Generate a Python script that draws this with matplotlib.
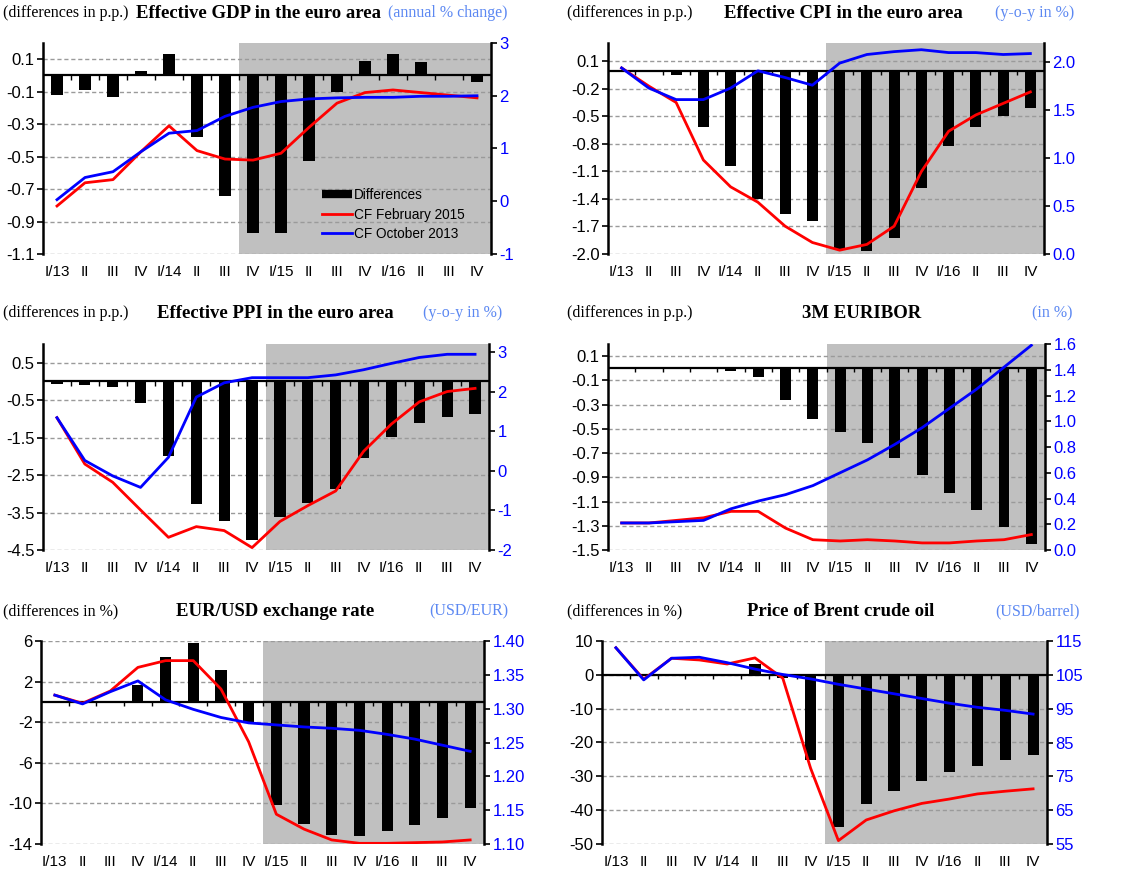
import numpy as np
import matplotlib.pyplot as plt
from matplotlib.lines import Line2D
from matplotlib.ticker import FormatStrFormatter

plt.rcParams['axes.unicode_minus'] = False
plt.rcParams['font.family'] = 'Liberation Sans'

quarters = ["I/13", "II", "III", "IV", "I/14", "II", "III", "IV",
            "I/15", "II", "III", "IV", "I/16", "II", "III", "IV"]

# GDP (differences in p.p., annual % change)
gdp_diff = [-0.12, -0.09, -0.13, 0.03, 0.13, -0.38, -0.74, -0.97,
            -0.97, -0.53, -0.10, 0.09, 0.13, 0.08, 0.01, -0.04]
gdp_feb15 = [-0.09, 0.35, 0.41, 0.94, 1.43, 0.96, 0.80, 0.78,
             0.91, 1.40, 1.86, 2.06, 2.11, 2.06, 2.01, 1.96]
gdp_oct13 = [0.03, 0.45, 0.56, 0.94, 1.29, 1.34, 1.61, 1.78,
             1.89, 1.94, 1.96, 1.97, 1.97, 1.99, 1.99, 2.00]

# CPI (y-o-y in %)
cpi_diff = [0.0, 0.0, -0.05, -0.62, -1.04, -1.40, -1.56, -1.64,
            -1.96, -1.97, -1.83, -1.28, -0.82, -0.62, -0.50, -0.41]
cpi_feb15 = [1.94, 1.75, 1.58, 0.98, 0.70, 0.54, 0.29, 0.12,
             0.04, 0.10, 0.29, 0.86, 1.28, 1.45, 1.57, 1.69]
cpi_oct13 = [1.94, 1.73, 1.61, 1.61, 1.73, 1.91, 1.84, 1.76,
             1.99, 2.08, 2.11, 2.13, 2.10, 2.10, 2.08, 2.09]

# PPI (y-o-y in %)
ppi_diff = [-0.06, -0.09, -0.16, -0.57, -1.99, -3.28, -3.73, -4.23,
            -3.63, -3.25, -2.87, -2.05, -1.49, -1.12, -0.95, -0.88]
ppi_feb15 = [1.34, 0.17, -0.29, -0.99, -1.68, -1.41, -1.51, -1.94,
             -1.28, -0.88, -0.51, 0.49, 1.18, 1.74, 2.00, 2.08]
ppi_oct13 = [1.34, 0.26, -0.13, -0.42, 0.34, 1.86, 2.22, 2.35,
             2.35, 2.35, 2.42, 2.55, 2.71, 2.86, 2.94, 2.94]

# 3M EURIBOR (in %)
eur_diff = [0.0, 0.0, 0.0, 0.0, -0.02, -0.07, -0.26, -0.42,
            -0.53, -0.62, -0.74, -0.88, -1.03, -1.17, -1.31, -1.45]
eur_feb15 = [0.21, 0.21, 0.23, 0.25, 0.30, 0.30, 0.17, 0.08,
             0.07, 0.08, 0.07, 0.055, 0.055, 0.07, 0.08, 0.12]
eur_oct13 = [0.21, 0.21, 0.22, 0.23, 0.32, 0.38, 0.43, 0.50,
             0.60, 0.70, 0.82, 0.95, 1.10, 1.25, 1.42, 1.59]

# EUR/USD (differences in %, USD/EUR)
fx_diff = [0.0, 0.0, 0.0, 1.64, 4.42, 5.84, 3.14, -1.99,
           -10.2, -12.0, -13.1, -13.2, -12.7, -12.1, -11.4, -10.5]
fx_feb15 = [1.320, 1.308, 1.326, 1.361, 1.371, 1.371, 1.329, 1.251,
            1.144, 1.122, 1.106, 1.101, 1.101, 1.102, 1.103, 1.106]
fx_oct13 = [1.320, 1.307, 1.325, 1.341, 1.313, 1.299, 1.287, 1.279,
            1.276, 1.273, 1.271, 1.268, 1.262, 1.255, 1.246, 1.237]

# Brent (differences in %, USD/barrel)
oil_diff = [0.0, 0.0, 0.0, -0.4, -0.4, 3.3, -1.0, -25.2,
            -45.1, -38.3, -34.4, -31.5, -28.8, -27.0, -25.2, -23.7]
oil_feb15 = [113.0, 103.7, 109.9, 109.4, 108.2, 110.0, 104.0, 77.4,
             56.0, 62.1, 64.8, 67.0, 68.3, 69.8, 70.6, 71.3]
oil_oct13 = [113.0, 103.5, 109.9, 110.2, 108.6, 106.7, 105.1, 103.8,
             102.2, 100.8, 99.4, 98.0, 96.6, 95.4, 94.5, 93.4]

W, H = 1123, 872
fig = plt.figure(figsize=(W / 100, H / 100), dpi=100)

RED = '#FF0000'
BLUE = '#0000FF'
HEAD_BLUE = '#5C88F2'
SERIF = 'Liberation Serif'
TICK_SIZE = 12


def box(left, right, top, bottom):
    return [left / W, 1 - bottom / H, (right - left) / W, (bottom - top) / H]


def panel(rect, diff, feb, octo, llim, lticks, lfmt, rlim, rticks, rfmt,
          shade_from, heads, head_x, head_y):
    ax = fig.add_axes(box(*rect))
    x = np.arange(len(quarters))
    ax.set_xlim(-0.5, len(quarters) - 0.5)
    ax.set_ylim(*llim)
    ax.axvspan(shade_from, len(quarters) - 0.5, color='#C0C0C0', lw=0, zorder=0)
    for t in lticks:
        ax.axhline(t, color='#9A9A9A', lw=1.0, ls=(0, (3, 2)), zorder=0.5)
    ax.bar(x, diff, width=0.4, color='black', zorder=2)
    ax.axhline(0, color='black', lw=1.6, zorder=3)
    tick_len = (llim[1] - llim[0]) * 0.02
    ax.vlines(x[:-1] + 0.5, -tick_len, 0, color='black', lw=1.0, zorder=3)

    ax.set_yticks(lticks)
    ax.yaxis.set_major_formatter(FormatStrFormatter(lfmt))
    ax.set_xticks(x)
    ax.set_xticklabels(quarters)
    ax.tick_params(axis='x', length=0, pad=8, labelsize=11)
    ax.tick_params(axis='y', direction='out', length=4, width=1.2, pad=2,
                   labelsize=TICK_SIZE)
    for s in ['top', 'bottom', 'right']:
        ax.spines[s].set_visible(False)
    ax.spines['left'].set_linewidth(1.8)

    ax2 = ax.twinx()
    ax2.set_ylim(*rlim)
    ax2.plot(x, feb, color=RED, lw=2.0, zorder=4)
    ax2.plot(x, octo, color=BLUE, lw=2.0, zorder=4)
    ax2.set_yticks(rticks)
    ax2.yaxis.set_major_formatter(FormatStrFormatter(rfmt))
    ax2.tick_params(axis='y', direction='out', length=4, width=1.2, pad=2,
                    labelsize=TICK_SIZE, labelcolor=BLUE)
    for s in ['top', 'bottom', 'left']:
        ax2.spines[s].set_visible(False)
    ax2.spines['right'].set_linewidth(1.8)

    yy = 1 - head_y / H
    fig.text(head_x[0] / W, yy, heads[0], family=SERIF, fontsize=11.5,
             ha='left', va='center')
    fig.text(head_x[1] / W, yy, heads[1], family=SERIF, fontsize=13.5,
             fontweight='bold', ha='center', va='center')
    fig.text(head_x[2] / W, yy, heads[2], family=SERIF, fontsize=11.5,
             color=HEAD_BLUE, ha='right', va='center')
    return ax, ax2


ax, ax2 = panel((43, 491, 43, 254), gdp_diff, gdp_feb15, gdp_oct13,
                (-1.1, 0.2), np.arange(-1.1, 0.15, 0.2), '%.1f',
                (-1, 3), [-1, 0, 1, 2, 3], '%d', 6.5,
                ("(differences in p.p.)", "Effective GDP in the euro area", "(annual % change)"),
                (3, 258, 507), 13)
handles = [Line2D([], [], color='black', lw=6, solid_capstyle='butt'),
           Line2D([], [], color=RED, lw=2.0),
           Line2D([], [], color=BLUE, lw=2.0)]
ax2.legend(handles, ["Differences", "CF February 2015", "CF October 2013"],
           loc='upper left', bbox_to_anchor=(0.595, 0.37), frameon=False,
           fontsize=9.8, handlelength=2.2, handletextpad=0.15, labelspacing=0.4)

panel((608, 1044, 43, 254), cpi_diff, cpi_feb15, cpi_oct13,
      (-2.0, 0.3), np.arange(-2.0, 0.15, 0.3), '%.1f',
      (0, 2.2), [0, 0.5, 1.0, 1.5, 2.0], '%.1f', 7.5,
      ("(differences in p.p.)", "Effective CPI in the euro area", "(y-o-y in %)"),
      (567, 843, 1074), 13)

panel((43, 489, 344, 550), ppi_diff, ppi_feb15, ppi_oct13,
      (-4.5, 1.0), np.arange(-4.5, 0.6, 1.0), '%.1f',
      (-2, 3.2), [-2, -1, 0, 1, 2, 3], '%d', 7.5,
      ("(differences in p.p.)", "Effective PPI in the euro area", "(y-o-y in %)"),
      (3, 275, 502), 313)

panel((608, 1045, 344, 550), eur_diff, eur_feb15, eur_oct13,
      (-1.5, 0.2), np.arange(-1.5, 0.15, 0.2), '%.1f',
      (0, 1.6), np.arange(0, 1.65, 0.2), '%.1f', 7.5,
      ("(differences in p.p.)", "3M EURIBOR", "(in %)"),
      (567, 862, 1073), 313)

panel((41, 484, 641, 844), fx_diff, fx_feb15, fx_oct13,
      (-14, 6), [-14, -10, -6, -2, 2, 6], '%d',
      (1.10, 1.40), np.arange(1.10, 1.41, 0.05), '%.2f', 7.5,
      ("(differences in %)", "EUR/USD exchange rate", "(USD/EUR)"),
      (3, 275, 508), 611)

panel((602, 1047, 641, 844), oil_diff, oil_feb15, oil_oct13,
      (-50, 10), [-50, -40, -30, -20, -10, 0, 10], '%d',
      (55, 115), [55, 65, 75, 85, 95, 105, 115], '%d', 7.5,
      ("(differences in %)", "Price of Brent crude oil", "(USD/barrel)"),
      (567, 841, 1080), 611)

fig.savefig('out.png', dpi=100)
